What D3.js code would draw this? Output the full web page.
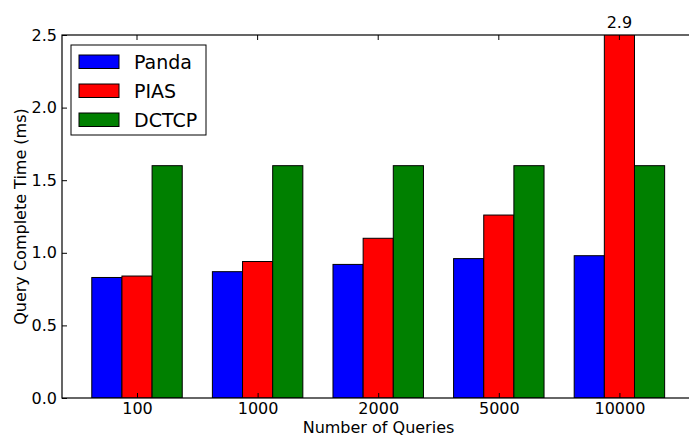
<!DOCTYPE html>
<html><head><meta charset="utf-8">
<script src="https://cdn.jsdelivr.net/npm/d3@7"></script>
<style>body{margin:0;background:#fff}svg{display:block;font-family:"DejaVu Sans",sans-serif}</style>
</head><body><svg id="c" width="689" height="436"></svg>
<script>
const categories = ["100","1000","2000","5000","10000"];
const seriesNames = ["Panda","PIAS","DCTCP"];
const panda = [0.83,0.87,0.92,0.96,0.98];
const pias = [0.84,0.94,1.10,1.26,2.9];
const dctcp = [1.6,1.6,1.6,1.6,1.6];
const yTicks = [0.0,0.5,1.0,1.5,2.0,2.5];
const colors = ["#0000ff","#ff0000","#008000"];
const series = [panda,pias,dctcp];

const svg = d3.select("#c");
const L=62, T=35, B=398;
const x = d3.scaleLinear().domain([-0.622,4.628]).range([L, L+5.25*120.6]);
const y = d3.scaleLinear().domain([0,2.5]).range([B,T]);
const bw = 0.25;

svg.append("defs").append("clipPath").attr("id","pc").append("rect")
  .attr("x",L).attr("y",T).attr("width",700-L).attr("height",B-T);

const g = svg.append("g").attr("clip-path","url(#pc)");
series.forEach((s,si)=>{
  g.selectAll(null).data(s).enter().append("rect")
    .attr("x",(d,i)=>x(i+(si-1.5)*bw))
    .attr("width",x(bw)-x(0))
    .attr("y",d=>y(d))
    .attr("height",d=>B-y(d))
    .attr("fill",colors[si]).attr("stroke","#000").attr("stroke-width",1);
});

// frame
svg.append("rect").attr("x",L).attr("y",T).attr("width",720-L).attr("height",B-T)
  .attr("fill","none").attr("stroke","#000").attr("stroke-width",1.2);

// y axis
const ya = d3.axisLeft(y).tickValues(yTicks).tickFormat(d3.format(".1f")).tickSizeInner(-5).tickSizeOuter(0).tickPadding(5);
const yg = svg.append("g").attr("transform",`translate(${L},0)`).call(ya);
yg.select(".domain").remove();
yg.selectAll("text").attr("font-size",16).attr("font-family","DejaVu Sans").attr("fill","#000");

// x axis
const xa = d3.axisBottom(x).tickValues(d3.range(categories.length)).tickFormat(i=>categories[i]).tickSizeInner(-5).tickSizeOuter(0).tickPadding(4.5);
const xg = svg.append("g").attr("transform",`translate(0,${B})`).call(xa);
xg.select(".domain").remove();
xg.selectAll("text").attr("font-size",16).attr("font-family","DejaVu Sans").attr("fill","#000");
// top ticks
svg.selectAll(null).data(d3.range(categories.length)).enter().append("line")
  .attr("x1",i=>x(i)).attr("x2",i=>x(i)).attr("y1",T).attr("y2",T+5).attr("stroke","#000");

// value label for clipped bar
svg.append("text").attr("x",x(4)).attr("y",28).attr("text-anchor","middle")
  .attr("font-size",16).text(pias[4].toFixed(1));

// axis titles
svg.append("text").attr("x",(L+695)/2).attr("y",433).attr("text-anchor","middle")
  .attr("font-size",16).text("Number of Queries");
svg.append("text").attr("transform",`translate(26,${(T+B)/2}) rotate(-90)`).attr("text-anchor","middle")
  .attr("font-size",16).text("Query Complete Time (ms)");

// legend
const lg = svg.append("g");
lg.append("rect").attr("x",71).attr("y",45).attr("width",135).attr("height",90)
  .attr("fill","#fff").attr("stroke","#000").attr("stroke-width",1);
seriesNames.forEach((n,i)=>{
  lg.append("rect").attr("x",79).attr("y",55+i*29).attr("width",40).attr("height",13.5)
    .attr("fill",colors[i]).attr("stroke","#000").attr("stroke-width",1);
  lg.append("text").attr("x",134).attr("y",68.5+i*29).attr("font-size",19).text(n);
});
</script></body></html>
